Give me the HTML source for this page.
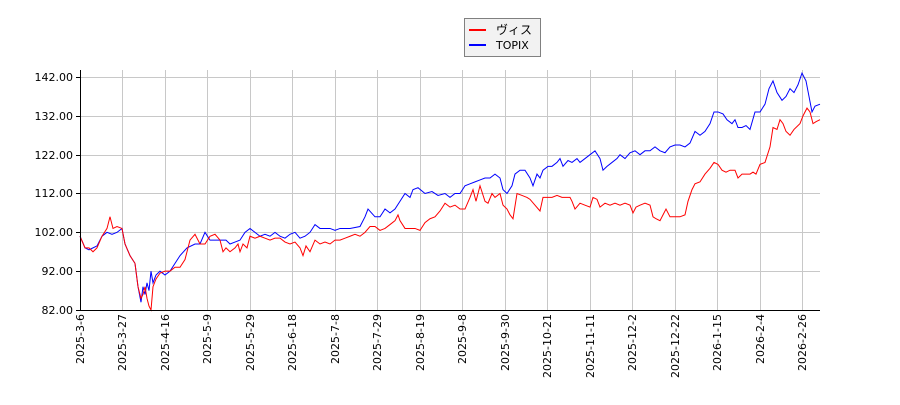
<!DOCTYPE html>
<html><head><meta charset="utf-8"><style>
body{margin:0;background:#fff}
svg text{font-family:"DejaVu Sans","Liberation Sans",sans-serif;font-size:11px;fill:#000}
</style></head><body>
<svg width="900" height="400" xmlns="http://www.w3.org/2000/svg">
<g stroke="#c8c8c8" stroke-width="1">
<line x1="80" x2="820" y1="77.5" y2="77.5"/><line x1="80" x2="820" y1="116.5" y2="116.5"/><line x1="80" x2="820" y1="155.5" y2="155.5"/><line x1="80" x2="820" y1="193.5" y2="193.5"/><line x1="80" x2="820" y1="232.5" y2="232.5"/><line x1="80" x2="820" y1="271.5" y2="271.5"/>
<line x1="122.5" x2="122.5" y1="70" y2="310"/><line x1="165.5" x2="165.5" y1="70" y2="310"/><line x1="207.5" x2="207.5" y1="70" y2="310"/><line x1="250.5" x2="250.5" y1="70" y2="310"/><line x1="292.5" x2="292.5" y1="70" y2="310"/><line x1="335.5" x2="335.5" y1="70" y2="310"/><line x1="377.5" x2="377.5" y1="70" y2="310"/><line x1="420.5" x2="420.5" y1="70" y2="310"/><line x1="462.5" x2="462.5" y1="70" y2="310"/><line x1="505.5" x2="505.5" y1="70" y2="310"/><line x1="547.5" x2="547.5" y1="70" y2="310"/><line x1="590.5" x2="590.5" y1="70" y2="310"/><line x1="632.5" x2="632.5" y1="70" y2="310"/><line x1="675.5" x2="675.5" y1="70" y2="310"/><line x1="717.5" x2="717.5" y1="70" y2="310"/><line x1="760.5" x2="760.5" y1="70" y2="310"/><line x1="802.5" x2="802.5" y1="70" y2="310"/>
</g>
<g transform="translate(0,310) scale(1,-3.883) translate(0,-82)" fill="none">
<polyline vector-effect="non-scaling-stroke" stroke="#0000ff" stroke-width="1" points="80,101 85,98 89,97.5 93,98 97,98.5 102,101 107,102 112,101.5 117,102 122,103 125,99 130,96 135,94 138,88 141,84 143,88 145,86 147,89 149,87 151,92 153,89 156,91 160,92 165,91 170,92 175,94 180,96 187,98 195,99 200,99 205,102 210,100 215,100 220,100 226,100 230,99 235,99.5 240,100 245,102 250,103 255,102 260,101 265,101.5 270,101 275,102 280,101 285,100.5 290,101.5 295,102 300,100.5 305,101 310,102 315,104 320,103 330,103 335,102.5 340,103 350,103 360,103.5 365,106 368,108 375,106 380,106 385,108 390,107 395,108 400,110 405,112 410,111 413,113 418,113.5 425,112 432,112.5 438,111.5 445,112 450,111 455,112 460,112 465,114 470,114.5 475,115 480,115.5 485,116 490,116 495,117 500,116 503,113 507,112 512,114 515,117 520,118 525,118 530,116 533,114 537,117 540,116 543,118 548,119 552,119 557,120 560,121 563,119 568,120.5 572,120 577,121 580,120 585,121 590,122 595,123 600,121 603,118 607,119 612,120 617,121 620,122 625,121 630,122.5 635,123 640,122 645,123 650,123 655,124 660,123 665,122.5 670,124 675,124.5 680,124.5 685,124 690,125 695,128 700,127 705,128 710,130 714,133 718,133 723,132.5 727,131 732,130 735,131 738,129 742,129 746,129.5 750,128.5 755,133 760,133 765,135 769,139 773,141 777,138 782,136 786,137 790,139 794,138 798,140 802,143 806,141 809,137 812,133 815,134.5 820,135"/>
<polyline vector-effect="non-scaling-stroke" stroke="#ff0000" stroke-width="1" points="80,101 85,98 89,98 93,97 97,98 102,101 107,103 110,106 113,103 117,103.5 122,103 125,99 130,96 135,94 138,88 141,85 143,86 145,88 147,85 149,83 151,82 153,88 156,90 160,91.5 165,92 170,92 175,93 180,93 185,95 190,100 195,101.5 200,99 205,99 210,101 215,101.5 220,100 223,97 226,98 230,97 235,98 238,99 240,97 243,99 247,98 250,101 255,100.5 260,101 265,100.5 270,100 275,100.5 280,100.5 285,99.5 290,99 295,99.5 300,98 303,96 306,98.5 310,97 315,100 320,99 325,99.5 330,99 335,100 340,100 345,100.5 350,101 355,101.5 360,101 365,102 370,103.5 375,103.5 380,102.5 385,103 390,104 395,105 398,106.5 400,105 405,103 410,103 415,103 420,102.5 425,104.5 430,105.5 435,106 440,107.5 445,109.5 450,108.5 455,109 460,108 465,108 470,111 473,113 476,110 480,114 485,110 488,109.5 492,112 495,111 500,112 503,109 507,108 510,106.5 513,105.5 517,112 522,111.5 527,111 530,110.5 535,109 540,107.5 543,111 548,111 552,111 557,111.5 562,111 570,111 572,110 575,108 580,109.5 585,109 590,108.5 593,111 597,110.5 600,108.5 605,109.5 610,109 615,109.5 620,109 625,109.5 630,109 633,107 636,108.5 640,109 645,109.5 650,109 653,106 656,105.5 660,105 663,106.5 666,108 670,106 675,106 680,106 685,106.5 688,110 692,113 695,114.5 700,115 705,117 710,118.5 714,120 718,119.5 722,118 726,117.5 730,118 735,118 738,116 742,117 746,117 750,117 753,117.5 756,117 760,119.5 765,120 770,124 773,129 777,128.5 780,131 783,130 786,128 790,127 794,128.5 800,130 803,132 807,134 810,133 813,130 816,130.5 820,131"/>
</g>
<g stroke="#000" stroke-width="1">
<line x1="80.5" x2="80.5" y1="70" y2="310"/><line x1="80" x2="820" y1="310.5" y2="310.5"/>
<line x1="76" x2="80" y1="77.5" y2="77.5"/><line x1="76" x2="80" y1="116.5" y2="116.5"/><line x1="76" x2="80" y1="155.5" y2="155.5"/><line x1="76" x2="80" y1="193.5" y2="193.5"/><line x1="76" x2="80" y1="232.5" y2="232.5"/><line x1="76" x2="80" y1="271.5" y2="271.5"/><line x1="76" x2="80" y1="310.5" y2="310.5"/>
</g>
<g text-anchor="end">
<text x="73" y="81">142.00</text><text x="73" y="120">132.00</text><text x="73" y="159">122.00</text><text x="73" y="197">112.00</text><text x="73" y="236">102.00</text><text x="73" y="275">92.00</text><text x="73" y="314">82.00</text>
</g>
<g text-anchor="end">
<text transform="translate(84,314) rotate(-90)">2025-3-6</text>
<text transform="translate(126,314) rotate(-90)">2025-3-27</text>
<text transform="translate(169,314) rotate(-90)">2025-4-16</text>
<text transform="translate(211,314) rotate(-90)">2025-5-9</text>
<text transform="translate(254,314) rotate(-90)">2025-5-29</text>
<text transform="translate(296,314) rotate(-90)">2025-6-18</text>
<text transform="translate(339,314) rotate(-90)">2025-7-8</text>
<text transform="translate(381,314) rotate(-90)">2025-7-29</text>
<text transform="translate(424,314) rotate(-90)">2025-8-19</text>
<text transform="translate(466,314) rotate(-90)">2025-9-8</text>
<text transform="translate(509,314) rotate(-90)">2025-9-30</text>
<text transform="translate(551,314) rotate(-90)">2025-10-21</text>
<text transform="translate(594,314) rotate(-90)">2025-11-11</text>
<text transform="translate(636,314) rotate(-90)">2025-12-2</text>
<text transform="translate(679,314) rotate(-90)">2025-12-22</text>
<text transform="translate(721,314) rotate(-90)">2026-1-15</text>
<text transform="translate(764,314) rotate(-90)">2026-2-4</text>
<text transform="translate(806,314) rotate(-90)">2026-2-26</text>
</g>
<rect x="464.5" y="18.5" width="76" height="38" fill="#f2f2f2" stroke="#808080"/>
<line x1="469" x2="486" y1="30" y2="30" stroke="#ff0000" stroke-width="2"/>
<line x1="469" x2="486" y1="45" y2="45" stroke="#0000ff" stroke-width="2"/>
<text x="496" y="34" style='font-family:"Liberation Sans","Noto Sans CJK JP",sans-serif;font-size:12px'>ヴィス</text>
<text x="496" y="49">TOPIX</text>
</svg>
</body></html>
